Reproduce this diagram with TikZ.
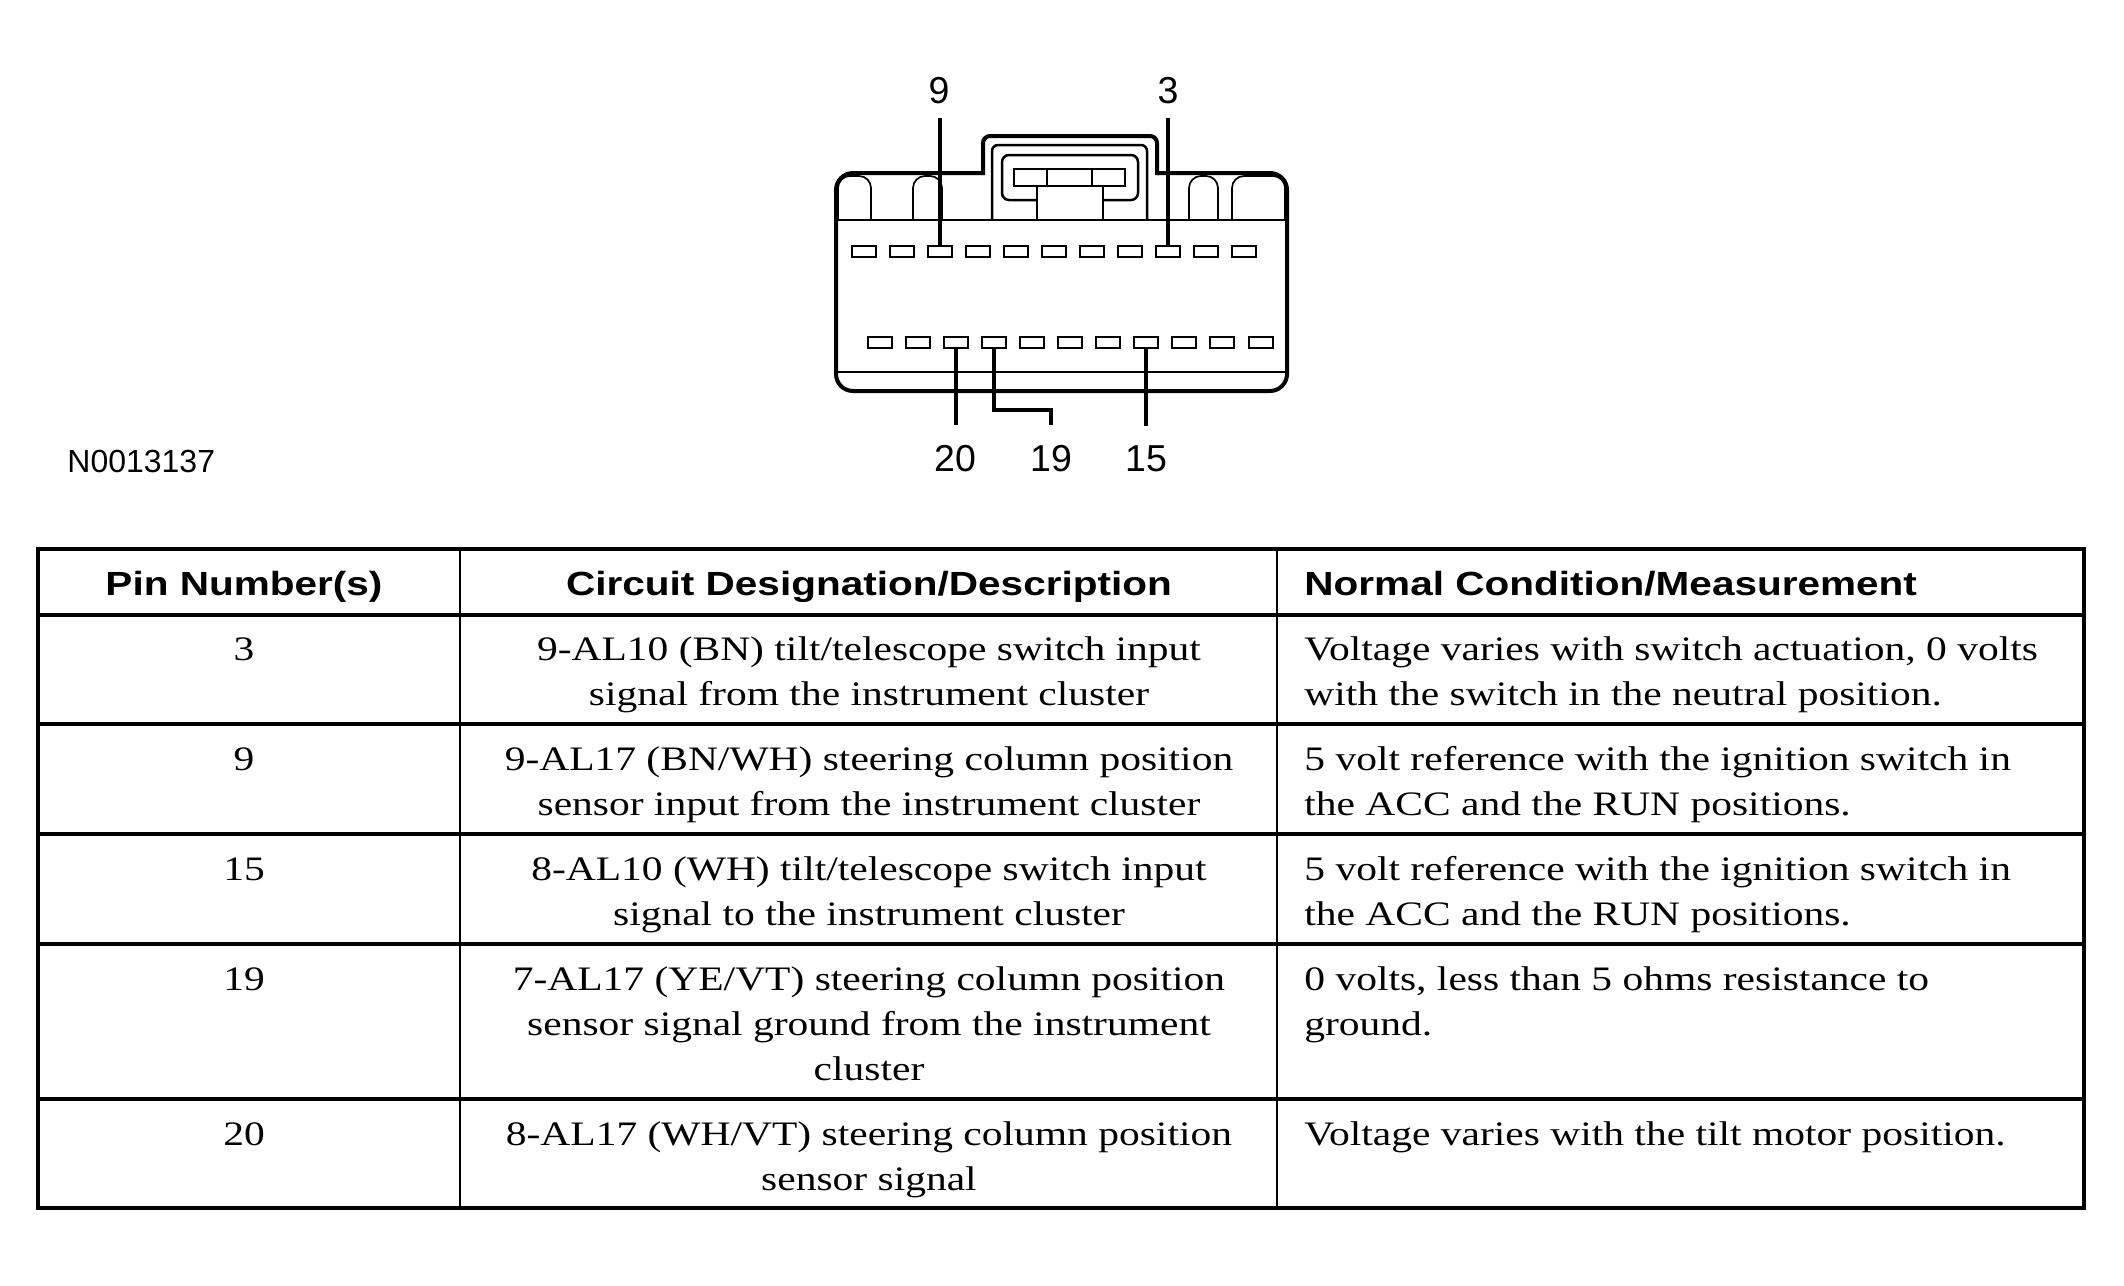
\documentclass[tikz,border=0pt]{standalone}
\usepackage{fontspec}
\setmainfont{Liberation Serif}
\newfontfamily\bodyfont[FakeStretch=1.21]{Liberation Serif}
\newfontfamily\hdrfont[FakeStretch=1.21]{Liberation Sans}
\newfontfamily\lblfont{Liberation Sans}
\begin{document}
\begin{tikzpicture}[x=0.5pt,y=-0.5pt,
  bodyline/.style={line width=2pt},
  midline/.style={line width=1.25pt},
  thinline/.style={line width=0.85pt},
  pinbox/.style={draw, line width=1pt, minimum width=12pt, minimum height=5.5pt, inner sep=0pt, outer sep=0pt},
  leader/.style={line width=2pt},
  lbl/.style={font=\lblfont\fontsize{18.75}{20}\selectfont, inner sep=0pt, anchor=base},
  idtxt/.style={font=\lblfont\fontsize{16}{18}\selectfont, inner sep=0pt, anchor=base west},
  hdr/.style={font=\hdrfont\bfseries\fontsize{16.75}{20}\selectfont, inner sep=0pt, anchor=base},
  hdrL/.style={hdr, anchor=base west},
  cell/.style={font=\bodyfont\fontsize{17.15}{22.5}\selectfont, inner sep=0pt, anchor=base},
  cellL/.style={cell, anchor=base west},
  tabouter/.style={line width=1.7pt},
  rowline/.style={line width=1.8pt},
  colline/.style={line width=1.1pt}]
\useasboundingbox (0,0) rectangle (2124,1285);

% ---------------- connector ----------------
\draw[bodyline, rounded corners=8.5pt] (983,173) -- (836,173) -- (836,391) -- (1287,391) -- (1287,173) -- (1157,173);
\draw[bodyline, rounded corners=3.5pt] (1157,175) -- (1157,136) -- (983,136) -- (983,175);
\draw[midline, rounded corners=3pt] (992,220) -- (992,145) -- (1147,145) -- (1147,220);
\draw[midline, rounded corners=3.5pt] (1037,200) -- (1002,200) -- (1002,155) -- (1138,155) -- (1138,200) -- (1103,200);
\draw[midline] (1014,169) rectangle (1125,186);
\draw[midline] (1047,169) -- (1047,186) (1092,169) -- (1092,186);
\draw[thinline] (1037,186) -- (1037,220) (1103,186) -- (1103,220);
\draw[thinline] (836,220) -- (1287,220) (836,372) -- (1287,372);
% clips
\draw[thinline, rounded corners=6pt] (838,220) -- (838,176) -- (871,176) -- (871,220);
\draw[thinline, rounded corners=6pt] (913,220) -- (913,176) -- (942,176) -- (942,220);
\draw[thinline, rounded corners=6pt] (1189,220) -- (1189,176) -- (1218,176) -- (1218,220);
\draw[thinline, rounded corners=6pt] (1232,220) -- (1232,176) -- (1285,176) -- (1285,220);

% pins
\foreach \i in {1,...,11} {
  \node[pinbox] (t\i) at ({863.5+38*(\i-1)},251) {};
  \node[pinbox] (b\i) at ({879.5+38.1*(\i-1)},342.5) {};
}

% labels
\node[lbl] (n9) at (939,103) {9};
\node[lbl] (n3) at (1168,103) {3};
\node[lbl] (n20) at (955,471) {20};
\node[lbl] (n19) at (1051,471) {19};
\node[lbl] (n15) at (1146,471) {15};
\node[idtxt] (nid) at (67,472) {N0013137};

\draw[leader, shorten >=7pt] (t3.north) -- (t3.north |- n9.south);
\draw[leader, shorten >=7pt] (t9.north) -- (t9.north |- n3.south);
\draw[leader, shorten >=9.5pt] (b3.south) -- (b3.south |- n20.north);
\coordinate (j19) at (1051,410);
\draw[leader, shorten >=9.5pt] (b4.south) |- (j19) -- (j19 |- n19.north);
\draw[leader, shorten >=9.5pt] (b8.south) -- (b8.south |- n15.north);

% ---------------- table ----------------
\draw[colline] (460,549) -- (460,1208) (1277,549) -- (1277,1208);
\draw[rowline] (38,615) -- (2084,615) (38,724) -- (2084,724) (38,834) -- (2084,834)
  (38,944) -- (2084,944) (38,1099) -- (2084,1099);
\draw[tabouter] (38,549) rectangle (2084,1208);

\node[hdr] (h1) at (244,595) {Pin Number(s)};
\node[hdr] (h2) at (869,595) {Circuit Designation/Description};
\node[hdrL] (h3) at (1304,595) {Normal Condition/Measurement};

% row 1
\node[cell] (p1) at (244,660) {3};
\node[cell] (d1a) at (869,660) {9-AL10 (BN) tilt/telescope switch input};
\node[cell] (d1b) at (869,705) {signal from the instrument cluster};
\node[cellL] (m1a) at (1304,660) {Voltage varies with switch actuation, 0 volts};
\node[cellL] (m1b) at (1304,705) {with the switch in the neutral position.};
% row 2
\node[cell] (p2) at (244,770) {9};
\node[cell] (d2a) at (869,770) {9-AL17 (BN/WH) steering column position};
\node[cell] (d2b) at (869,815) {sensor input from the instrument cluster};
\node[cellL] (m2a) at (1304,770) {5 volt reference with the ignition switch in};
\node[cellL] (m2b) at (1304,815) {the ACC and the RUN positions.};
% row 3
\node[cell] (p3) at (244,880) {15};
\node[cell] (d3a) at (869,880) {8-AL10 (WH) tilt/telescope switch input};
\node[cell] (d3b) at (869,925) {signal to the instrument cluster};
\node[cellL] (m3a) at (1304,880) {5 volt reference with the ignition switch in};
\node[cellL] (m3b) at (1304,925) {the ACC and the RUN positions.};
% row 4
\node[cell] (p4) at (244,990) {19};
\node[cell] (d4a) at (869,990) {7-AL17 (YE/VT) steering column position};
\node[cell] (d4b) at (869,1035) {sensor signal ground from the instrument};
\node[cell] (d4c) at (869,1080) {cluster};
\node[cellL] (m4a) at (1304,990) {0 volts, less than 5 ohms resistance to};
\node[cellL] (m4b) at (1304,1035) {ground.};
% row 5
\node[cell] (p5) at (244,1145) {20};
\node[cell] (d5a) at (869,1145) {8-AL17 (WH/VT) steering column position};
\node[cell] (d5b) at (869,1190) {sensor signal};
\node[cellL] (m5a) at (1304,1145) {Voltage varies with the tilt motor position.};
\end{tikzpicture}
\end{document}
